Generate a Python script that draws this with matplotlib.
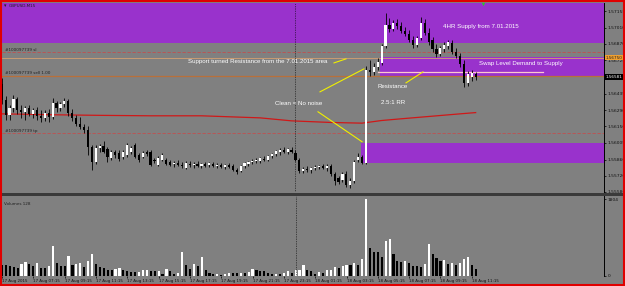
import matplotlib
matplotlib.use("Agg")
import matplotlib.pyplot as plt
import numpy as np
from matplotlib.patches import Rectangle

# ---------------- data (GBPUSD M15, 17-18 Aug 2015) ----------------
open_ = [1.56520,1.56381,1.56251,1.56311,1.56390,1.56294,1.56277,1.56311,1.56259,1.56294,
1.56242,1.56225,1.56268,1.56234,1.56355,1.56311,1.56346,1.56372,1.56268,1.56225,
1.56172,1.56146,1.56120,1.55972,1.55841,1.55963,1.55981,1.55955,1.55876,1.55929,
1.55920,1.55885,1.55902,1.55929,1.55989,1.55902,1.55885,1.55929,1.55929,1.55859,
1.55815,1.55859,1.55859,1.55841,1.55824,1.55833,1.55815,1.55789,1.55824,1.55815,
1.55824,1.55807,1.55824,1.55815,1.55824,1.55807,1.55815,1.55798,1.55815,1.55807,
1.55772,1.55763,1.55807,1.55824,1.55841,1.55850,1.55850,1.55868,1.55859,1.55894,
1.55911,1.55929,1.55946,1.55929,1.55946,1.55920,1.55859,1.55763,1.55781,1.55772,
1.55789,1.55798,1.55807,1.55789,1.55807,1.55737,1.55702,1.55685,1.55737,1.55642,
1.55676,1.55859,1.55885,1.55833,1.56642,1.56625,1.56668,1.56703,1.56851,1.57034,
1.56999,1.57051,1.57025,1.56981,1.56955,1.56903,1.56860,1.56920,1.57051,1.56964,
1.56903,1.56825,1.56781,1.56825,1.56851,1.56877,1.56799,1.56764,1.56694,1.56529,
1.56581,1.56607]
high = [1.56572,1.56416,1.56338,1.56425,1.56407,1.56338,1.56329,1.56338,1.56311,1.56320,
1.56294,1.56294,1.56303,1.56399,1.56372,1.56364,1.56399,1.56390,1.56303,1.56251,
1.56234,1.56172,1.56155,1.55989,1.55989,1.55998,1.56024,1.55972,1.55946,1.55946,
1.55946,1.55946,1.56007,1.55981,1.56007,1.55920,1.55937,1.55946,1.55946,1.55876,
1.55894,1.55920,1.55876,1.55859,1.55850,1.55859,1.55841,1.55850,1.55850,1.55841,
1.55850,1.55833,1.55841,1.55841,1.55841,1.55833,1.55833,1.55824,1.55833,1.55824,
1.55789,1.55815,1.55841,1.55850,1.55868,1.55876,1.55885,1.55894,1.55902,1.55920,
1.55946,1.55963,1.55972,1.55963,1.55972,1.55946,1.55876,1.55798,1.55807,1.55798,
1.55815,1.55815,1.55824,1.55824,1.55824,1.55755,1.55720,1.55755,1.55763,1.55702,
1.55859,1.55920,1.55902,1.56677,1.56729,1.56703,1.56747,1.56868,1.57138,1.57094,
1.57077,1.57086,1.57060,1.57016,1.56990,1.56938,1.56938,1.57103,1.57086,1.57007,
1.56929,1.56868,1.56851,1.56886,1.56903,1.56903,1.56833,1.56790,1.56729,1.56633,
1.56642,1.56625]
low = [1.56346,1.56207,1.56207,1.56277,1.56259,1.56225,1.56207,1.56242,1.56225,1.56207,
1.56190,1.56199,1.56190,1.56216,1.56277,1.56285,1.56320,1.56242,1.56199,1.56155,
1.56129,1.56094,1.55902,1.55772,1.55824,1.55929,1.55920,1.55841,1.55859,1.55876,
1.55850,1.55868,1.55885,1.55911,1.55876,1.55841,1.55876,1.55894,1.55807,1.55833,
1.55807,1.55850,1.55815,1.55807,1.55798,1.55807,1.55789,1.55781,1.55798,1.55789,
1.55798,1.55789,1.55798,1.55798,1.55798,1.55789,1.55789,1.55781,1.55789,1.55763,
1.55737,1.55755,1.55789,1.55807,1.55824,1.55833,1.55833,1.55850,1.55850,1.55876,
1.55894,1.55902,1.55920,1.55911,1.55920,1.55850,1.55746,1.55746,1.55755,1.55746,
1.55772,1.55781,1.55781,1.55763,1.55720,1.55642,1.55650,1.55668,1.55624,1.55615,
1.55659,1.55841,1.55824,1.55824,1.56590,1.56599,1.56642,1.56686,1.56833,1.56973,
1.56981,1.56999,1.56964,1.56938,1.56886,1.56833,1.56842,1.56903,1.56946,1.56860,
1.56799,1.56755,1.56764,1.56799,1.56825,1.56781,1.56747,1.56668,1.56494,1.56503,
1.56546,1.56555]
close = [1.56381,1.56251,1.56311,1.56390,1.56294,1.56277,1.56311,1.56259,1.56294,1.56242,
1.56225,1.56268,1.56234,1.56355,1.56311,1.56346,1.56372,1.56268,1.56225,1.56172,
1.56146,1.56120,1.55972,1.55841,1.55963,1.55981,1.55929,1.55885,1.55929,1.55902,
1.55868,1.55929,1.55989,1.55963,1.55885,1.55859,1.55920,1.55911,1.55815,1.55850,
1.55876,1.55902,1.55824,1.55815,1.55833,1.55815,1.55807,1.55833,1.55815,1.55824,
1.55807,1.55824,1.55807,1.55833,1.55807,1.55815,1.55798,1.55815,1.55798,1.55772,
1.55755,1.55807,1.55833,1.55841,1.55850,1.55859,1.55876,1.55859,1.55894,1.55911,
1.55937,1.55946,1.55929,1.55955,1.55929,1.55859,1.55763,1.55781,1.55772,1.55789,
1.55798,1.55807,1.55789,1.55807,1.55737,1.55676,1.55668,1.55737,1.55642,1.55676,
1.55841,1.55885,1.55833,1.56642,1.56625,1.56668,1.56712,1.56851,1.57034,1.56999,
1.57051,1.57025,1.56981,1.56955,1.56903,1.56860,1.56920,1.57051,1.56964,1.56886,
1.56825,1.56781,1.56833,1.56860,1.56886,1.56799,1.56764,1.56694,1.56529,1.56607,
1.56616,1.56581]
volume = [245,245,221,206,182,269,308,269,214,301,
182,182,221,704,285,229,221,467,245,277,
285,198,348,506,269,198,166,134,127,158,
174,142,103,79,79,87,127,134,111,95,
111,47,158,111,47,63,546,245,150,269,
221,435,127,55,24,32,16,40,55,55,
55,71,63,79,158,119,111,111,55,24,
47,47,63,103,55,119,134,245,127,103,
32,79,63,119,134,190,166,221,245,237,
285,237,396,1804,641,562,546,427,815,870,
498,340,316,348,301,221,221,206,269,744,
498,403,348,356,269,301,245,293,396,443,
245,158]

ma_bars = [0, 13, 25, 38, 51, 66, 74, 84, 92, 97, 102, 109, 117, 121]
ma_vals = [1.56259, 1.56251, 1.56246, 1.56242, 1.56242, 1.56224, 1.56198,
           1.56184, 1.56178, 1.56201, 1.56216, 1.56236, 1.56259, 1.56270]

price_ticks = [1.57155, 1.57010, 1.56870, 1.56725, 1.56435, 1.56290,
               1.56150, 1.56005, 1.55860, 1.55720, 1.55580]
time_tick_bars = [0, 8, 16, 24, 32, 40, 48, 56, 64, 72, 80, 88, 96, 104, 112, 120]
time_labels = ["17 Aug 2015", "17 Aug 07:15", "17 Aug 09:15", "17 Aug 11:15",
               "17 Aug 13:15", "17 Aug 15:15", "17 Aug 17:15", "17 Aug 19:15",
               "17 Aug 21:15", "17 Aug 23:15", "18 Aug 01:15", "18 Aug 03:15",
               "18 Aug 05:15", "18 Aug 07:15", "18 Aug 09:15", "18 Aug 11:15"]

supply_zone = (1.56877, 1.5740)
swap_zone = (1.56590, 1.56755)
swap_start = 96.6
demand_zone = (1.55833, 1.56007)
demand_start = 91.7
pink_level, pink_span = 1.56625, (96.1, 138.2)
sl_level, entry_level, sell_level, tp_level = 1.56794, 1.56750, 1.56592, 1.56090
bid_price = 1.56581
day_sep = 75

# ---------------- figure ----------------
W, H = 625, 286
GRAY = '#808080'
PURPLE = '#9932CC'
fig = plt.figure(figsize=(W / 100, H / 100), dpi=100)
fig.patch.set_facecolor(GRAY)

def fx(px): return px / W
def fy(py): return 1 - py / H

def px2bar(px): return (px - 1.7) / 3.917

ax = fig.add_axes([fx(2), fy(192), fx(604) - fx(2), fy(3) - fy(192)])
axv = fig.add_axes([fx(2), fy(275.5), fx(604) - fx(2), fy(196) - fy(275.5)])

xlim = (px2bar(2), px2bar(604))
for a in (ax, axv):
    a.set_facecolor(GRAY)
    a.set_xlim(*xlim)
    for s in ('top', 'left'):
        a.spines[s].set_visible(False)
    a.spines['right'].set_color('black')
    a.spines['right'].set_linewidth(0.7)
    a.spines['bottom'].set_visible(False)
    a.yaxis.tick_right()
    a.tick_params(axis='y', length=1.5, width=0.5, pad=1.2, labelsize=3.2,
                  colors='black', labelcolor='#101010')

ax.set_ylim(1.55578, 1.57225)
ax.set_xticks([])
ax.set_yticks(price_ticks)
ax.set_yticklabels([f"{v:.5f}" for v in price_ticks])

# zones
ax.add_patch(Rectangle((xlim[0], supply_zone[0]), xlim[1] - xlim[0],
                       supply_zone[1] - supply_zone[0], color=PURPLE, zorder=0.5, lw=0))
ax.add_patch(Rectangle((swap_start, swap_zone[0]), xlim[1] - swap_start,
                       swap_zone[1] - swap_zone[0], color=PURPLE, zorder=0.5, lw=0))
ax.add_patch(Rectangle((demand_start, demand_zone[0]), xlim[1] - demand_start,
                       demand_zone[1] - demand_zone[0], color=PURPLE, zorder=0.5, lw=0))

# trade lines
ax.axhline(sl_level, color='#C05050', lw=0.6, ls=(0, (4, 2)), zorder=1)
ax.axhline(entry_level, color='#D4A070', lw=0.6, zorder=1)
ax.axhline(sell_level, color='#B8703A', lw=0.9, zorder=1)
ax.axhline(tp_level, color='#C05050', lw=0.6, ls=(0, (4, 2)), zorder=1)
ax.plot(pink_span, [pink_level, pink_level], color='#FFC8D0', lw=0.9, zorder=1.5)

lbl = dict(fontsize=3.0, color='#202020', ha='left', va='bottom', family='DejaVu Sans')
ax.text(px2bar(5), sl_level + 0.00003, "#100097739 sl", **lbl)
ax.text(px2bar(5), sell_level + 0.00005, "#100097739 sell 1.00", **lbl)
ax.text(px2bar(5), tp_level + 0.00003, "#100097739 tp", **lbl)
fig.text(fx(9), fy(6), "GBPUSD,M15", fontsize=3.0, color='#202020', va='center')
fig.text(fx(4), fy(6), "\u25BE", fontsize=3.5, color='#202020', va='center')

# moving average
ax.plot(ma_bars, ma_vals, color='#D01818', lw=0.9, zorder=2)

# candles
o = np.array(open_); c = np.array(close); h = np.array(high); l = np.array(low)
bars = np.arange(len(c))
up = c >= o
ax.vlines(bars, l, h, colors='black', lw=0.6, zorder=3)
bh = np.maximum(np.abs(c - o), 0.00002)
ax.bar(bars, bh, bottom=np.minimum(o, c), width=0.55,
       color=np.where(up, 'white', 'black'), lw=0, zorder=4)

# day separator
for a in (ax, axv):
    a.axvline(day_sep, color='black', lw=0.5, ls=(0, (1, 1.5)), zorder=2.5)

# small arrow marker at top
ax.plot([px2bar(483)], [1.57215], marker='v', ms=2.5, color='#30C030', mec='none',
        zorder=6, clip_on=False)

# annotations
tkw = dict(color='white', fontsize=4.4, family='Liberation Sans', va='center', ha='left', zorder=6)
ax.text(px2bar(188), 1.56712, "Support turned Resistance from the 7.01.2015 area", **tkw)
ax.text(px2bar(443), 1.57016, "4HR Supply from 7.01.2015", **tkw)
ax.text(px2bar(479), 1.56694, "Swap Level Demand to Supply", **tkw)
ax.text(px2bar(377), 1.56494, "Resistance", **tkw)
ax.text(px2bar(381), 1.56355, "2.5:1 RR", **tkw)
ax.text(px2bar(275), 1.56346, "Clean = No noise", **tkw)
yl = dict(color='#F0F000', lw=0.8, zorder=5)
ax.plot([px2bar(334), px2bar(346)], [1.56703, 1.56738], **yl)
ax.plot([px2bar(320), px2bar(364)], [1.56451, 1.56651], **yl)
ax.plot([px2bar(318), px2bar(362)], [1.56277, 1.56016], **yl)
ax.plot([px2bar(406), px2bar(423)], [1.56529, 1.56625], **yl)

# price boxes on the scale
ax.text(1.002, entry_level, "1.56750", transform=ax.get_yaxis_transform(),
        fontsize=3.0, color='#202020', va='center', ha='left', zorder=7,
        bbox=dict(boxstyle='square,pad=0.15', fc='#F0A030', ec='none'))
ax.text(1.002, bid_price, f"{bid_price:.5f}", transform=ax.get_yaxis_transform(),
        fontsize=3.0, color='white', va='center', ha='left', zorder=7,
        bbox=dict(boxstyle='square,pad=0.15', fc='black', ec='none'))

# volume panel
v = np.array(volume)
vup = np.concatenate([[False], v[1:] > v[:-1]])
axv.bar(bars, v, width=0.55, color=np.where(vup, 'white', 'black'), lw=0)
axv.set_ylim(0, 1882)
axv.set_yticks([0, 1804])
axv.set_yticklabels(["0", "1804"])
axv.set_xticks(time_tick_bars)
axv.set_xticklabels(time_labels, fontsize=2.9, ha='left', color='#101010')
axv.tick_params(axis='x', length=1.5, width=0.5, pad=0.8, colors='black', labelcolor='#101010')
axv.text(px2bar(4), 1700, "Volumes 128", fontsize=3.0, color='#202020', va='center')

# panel separator and border
fig.add_artist(Rectangle((0, fy(195.5)), 1, fy(192.5) - fy(195.5), transform=fig.transFigure,
                         color='#3a3a3a', lw=0))
fig.add_artist(Rectangle((fx(1), fy(285)), fx(623), fy(1) - fy(285), transform=fig.transFigure,
                         fill=False, edgecolor='#E00000', lw=1.5))

fig.savefig("out.png", dpi=100, facecolor=fig.get_facecolor())
